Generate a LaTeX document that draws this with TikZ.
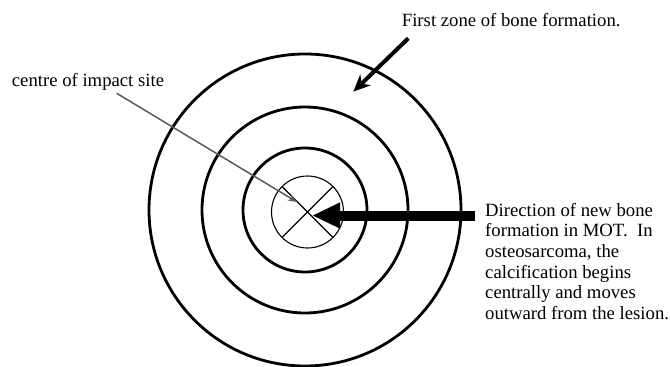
\documentclass[tikz,border=0pt]{standalone}
\usepackage{fontspec}
\setmainfont{Liberation Serif}
\usepackage{tikz}
\usetikzlibrary{arrows.meta, positioning}
\definecolor{pointergray}{HTML}{5A5A5A}

\begin{document}
\begin{tikzpicture}[x=1pt, y=-1pt, >=Stealth,
    ring/.style={line width=2.8pt},
    caption/.style={font=\fontsize{18.7}{20.7}\selectfont, inner sep=0pt}]
  \useasboundingbox (0,0) rectangle (670,367);

  % Středy
  \coordinate (centre) at (305,210);
  \coordinate (impact) at (307.5,212);

  % Kruhy zón
  \draw[ring] (centre) circle[radius=156];
  \draw[ring] (centre) circle[radius=103];
  \draw[ring] (centre) circle[radius=62];

  % Místo nárazu s křížem
  \draw[line width=1.1pt] (impact) circle[radius=36];
  \draw[line width=1.1pt] (impact) +(45:36) -- +(225:36);
  \draw[line width=1.1pt] (impact) +(135:36) -- +(315:36);

  % Popisky (base = poslední řádek)
  \node[caption, anchor=base west] (zone) at (401.7,26.7) {First zone of bone formation.};
  \node[caption, anchor=base west] (site) at (11.7,86) {centre of impact site};
  \node[caption, anchor=base west, align=left] (direction) at (485,319.5)
    {Direction of new bone\\formation in MOT.~~In\\osteosarcoma, the\\calcification begins\\centrally and moves\\outward from the lesion.};

  % Šipky
  \coordinate (zonetail) at (408.3,38.3);
  \coordinate (zonetip) at (353.3,91.7);
  \draw[line width=4pt, -{Stealth[length=17pt,width=15pt]}] (zonetail) -- (zonetip);

  \coordinate (sitetail) at (116.7,93.3);
  \coordinate (sitetip) at (297,202);
  \draw[pointergray, line width=1.5pt, -{Stealth[length=9pt,width=7pt]}] (sitetail) -- (sitetip);

  \coordinate (dirtail) at (475,215.5);
  \coordinate (dirtip) at (312,215.5);
  \draw[line width=10pt, -{Triangle[length=28pt,width=24pt]}] (dirtail) -- (dirtip);
\end{tikzpicture}
\end{document}
